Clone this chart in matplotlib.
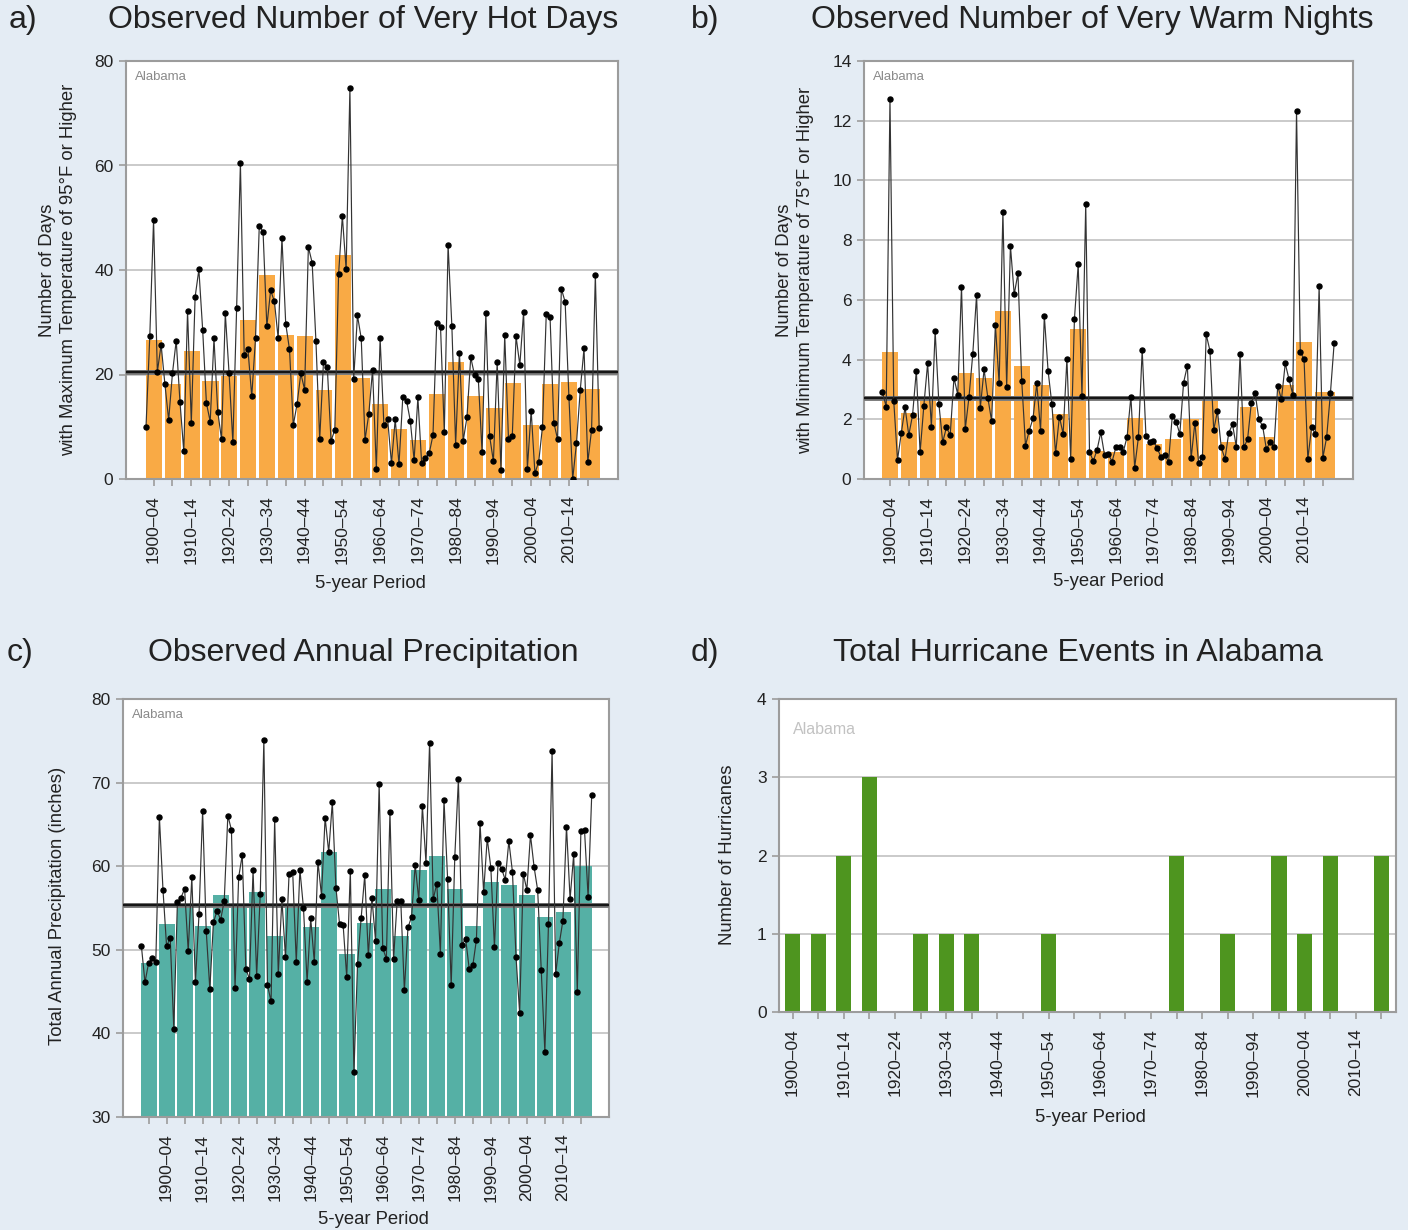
import numpy as np
import matplotlib
matplotlib.use('Agg')
import matplotlib.pyplot as plt

plt.rcParams['font.family'] = ['Liberation Sans', 'DejaVu Sans']

# ---------------- data ----------------
# a) very hot days (annual, 1900-2020)
hot_years = list(range(1900, 2021))
hot_days = [10.0, 27.3, 49.6, 20.5, 25.7, 18.2, 11.3, 20.2, 26.5, 14.7,
            5.3, 32.1, 10.8, 34.8, 40.1, 28.6, 14.5, 11.0, 26.9, 12.9,
            7.6, 31.7, 20.2, 7.0, 32.7, 60.4, 23.8, 24.8, 15.8, 26.9,
            48.5, 47.3, 29.2, 36.1, 34.0, 26.9, 46.2, 29.7, 24.8, 10.3,
            14.3, 20.2, 17.1, 44.4, 41.4, 26.4, 7.6, 22.4, 21.5, 7.3,
            9.4, 39.2, 50.3, 40.1, 74.8, 19.2, 31.3, 26.9, 7.5, 12.4,
            20.9, 1.9, 26.9, 10.3, 11.4, 3.0, 11.4, 2.8, 15.6, 15.0,
            11.1, 3.6, 15.6, 3.0, 4.1, 4.9, 8.4, 29.9, 29.1, 9.0,
            44.8, 29.3, 6.6, 24.2, 7.3, 11.8, 23.3, 19.9, 19.2, 5.2,
            31.8, 8.2, 3.4, 22.3, 1.7, 27.5, 7.6, 8.2, 27.3, 21.8,
            32.0, 2.0, 13.1, 1.1, 3.3, 10.0, 31.6, 31.1, 10.8, 7.6,
            36.4, 33.9, 15.7, 0.0, 6.8, 17.0, 25.0, 3.2, 9.4, 39.1, 9.7]
hot_period_starts = [1900, 1905, 1910, 1915, 1920, 1925, 1930, 1935, 1940, 1945, 1950, 1955,
                     1960, 1965, 1970, 1975, 1980, 1985, 1990, 1995, 2000, 2005, 2010, 2015]
hot_period_ends = [1904, 1909, 1914, 1919, 1924, 1929, 1934, 1939, 1944, 1949, 1954, 1959,
                   1964, 1969, 1974, 1979, 1984, 1989, 1994, 1999, 2004, 2009, 2014, 2020]
hot_bars = [26.6, 18.2, 24.5, 18.7, 19.7, 30.4, 39.0, 27.5, 27.3, 17.0, 42.8, 19.4,
            14.3, 9.6, 7.5, 16.2, 22.3, 15.9, 13.5, 18.4, 10.3, 18.1, 18.6, 17.2]
hot_avg = 20.5

# b) very warm nights (annual, 1900-2020)
warm_years = list(range(1900, 2021))
warm_nights = [2.90, 2.42, 12.72, 2.61, 0.64, 1.53, 2.40, 1.47, 2.14, 3.63,
               0.89, 2.46, 3.87, 1.75, 4.96, 2.51, 1.23, 1.73, 1.47, 3.39,
               2.83, 6.44, 1.67, 2.76, 4.19, 6.16, 2.39, 3.67, 2.72, 1.94,
               5.16, 3.20, 8.95, 3.07, 7.81, 6.18, 6.89, 3.28, 1.12, 1.62,
               2.03, 3.20, 1.61, 5.46, 3.63, 2.51, 0.86, 2.09, 1.51, 4.02,
               0.67, 5.36, 7.19, 2.79, 9.21, 0.92, 0.60, 0.97, 1.56, 0.80,
               0.84, 0.58, 1.06, 1.06, 0.92, 1.42, 2.76, 0.38, 1.40, 4.32,
               1.44, 1.23, 1.27, 1.03, 0.73, 0.80, 0.58, 2.12, 1.92, 1.51,
               3.23, 3.79, 0.69, 1.89, 0.52, 0.75, 4.84, 4.30, 1.64, 2.28,
               1.06, 0.67, 1.55, 1.83, 1.08, 4.17, 1.06, 1.33, 2.56, 2.87,
               2.00, 1.77, 0.99, 1.25, 1.06, 3.11, 2.67, 3.87, 3.34, 2.83,
               12.33, 4.26, 4.01, 0.67, 1.73, 1.51, 6.46, 0.71, 1.40, 2.87, 4.56]
warm_bars = [4.24, 2.20, 2.79, 2.03, 3.56, 3.37, 5.64, 3.79, 3.15, 2.18, 5.04, 0.95,
             0.89, 2.05, 1.17, 1.35, 2.00, 2.73, 1.23, 2.40, 1.42, 3.15, 4.60, 2.90]
warm_avg = 2.70

# c) annual precipitation (annual, 1895-2020)
precip_years = list(range(1895, 2021))
precip = [50.48, 46.10, 48.41, 48.96, 48.49,
          65.90, 57.17, 50.40, 51.47, 40.56,
          55.66, 56.25, 57.29, 49.88, 58.65,
          46.14, 54.26, 66.61, 52.27, 45.30,
          53.27, 54.66, 53.59, 55.86, 66.06,
          64.34, 45.42, 58.65, 61.35, 47.69,
          46.53, 59.52, 46.89, 56.69, 75.10,
          45.78, 43.82, 65.62, 47.13, 56.06,
          49.10, 59.10, 59.30, 48.50, 59.60,
          54.98, 46.14, 53.78, 48.53, 60.56,
          56.49, 65.82, 61.67, 67.65, 57.45,
          53.11, 52.99, 46.73, 59.48, 35.38,
          48.29, 53.78, 58.92, 49.32, 56.18,
          51.10, 69.88, 50.20, 48.92, 66.53,
          48.88, 55.86, 55.86, 45.14, 52.67,
          53.94, 60.16, 55.98, 67.21, 60.40,
          74.78, 56.02, 57.93, 49.52, 67.93,
          58.49, 45.74, 61.16, 70.40, 50.56,
          51.35, 47.73, 48.13, 51.20, 65.22,
          56.89, 63.31, 59.84, 50.32, 60.36,
          59.68, 58.37, 62.99, 59.32, 49.08,
          42.43, 59.12, 57.17, 63.75, 59.92,
          57.13, 47.53, 37.77, 53.11, 73.78,
          47.13, 50.76, 53.47, 64.74, 56.06,
          61.43, 44.98, 64.22, 64.34, 56.33, 68.49]
precip_period_starts = [1895] + hot_period_starts
precip_period_ends = [1899] + hot_period_ends
precip_bars = [48.4, 53.1, 55.4, 52.9, 56.6, 55.5, 56.9, 51.7, 55.1, 52.7, 61.7, 49.5, 53.2,
               57.3, 51.7, 59.5, 61.2, 57.3, 52.8, 58.1, 57.8, 56.5, 53.9, 54.5, 60.0]
precip_avg = 55.4

# d) hurricanes per 5-year period (1900-04 ... 2015-19)
hurr_periods = ['1900–04', '1905–09', '1910–14', '1915–19', '1920–24', '1925–29',
                '1930–34', '1935–39', '1940–44', '1945–49', '1950–54', '1955–59',
                '1960–64', '1965–69', '1970–74', '1975–79', '1980–84', '1985–89',
                '1990–94', '1995–99', '2000–04', '2005–09', '2010–14', '2015–19']
hurricanes = [1, 1, 2, 3, 0, 1, 1, 1, 0, 0, 1, 0, 0, 0, 0, 2, 0, 1, 0, 2, 1, 2, 0, 2]

# ---------------- figure ----------------
W, H = 1408, 1230
BG = '#E4ECF4'
TXT = '#222222'
SPINE = '#9c9c9c'

fig = plt.figure(figsize=(W / 100, H / 100), dpi=100, facecolor=BG)


def box(l, t, r, b):
    return [l / W, 1 - b / H, (r - l) / W, (b - t) / H]


def ftext(x, y, s, **kw):
    kw.setdefault('color', TXT)
    fig.text(x / W, 1 - y / H, s, **kw)


def style_axes(ax, yticks, ylim):
    ax.set_facecolor('white')
    for s in ax.spines.values():
        s.set_color(SPINE)
        s.set_linewidth(1.5)
    ax.set_ylim(*ylim)
    ax.set_yticks(yticks)
    ax.yaxis.grid(True, color='#c6c6c6', lw=1.3)
    ax.set_axisbelow(True)
    ax.tick_params(axis='both', colors=SPINE, labelcolor=TXT, labelsize=12.5,
                   length=5, width=1.2)
    ax.tick_params(axis='y', pad=4)
    ax.tick_params(axis='x', labelrotation=90, pad=7)


def period_label(s):
    return f"{s}–{(s + 4) % 100:02d}"


def annual_panel(rect, years, values, starts, ends, bar_vals, avg, color,
                 yticks, ylim, xlim):
    ax = fig.add_axes(rect)
    style_axes(ax, yticks, ylim)
    starts = np.array(starts)
    ends = np.array(ends)
    ax.bar(starts - 0.05, bar_vals, width=ends - starts + 0.25, align='edge',
           color=color, zorder=2)
    ax.axhline(avg, color='#7f7f7f', lw=3.6, zorder=3)
    ax.axhline(avg, color='#161616', lw=1.7, zorder=3.1)
    ax.plot(years, values, color='#333333', lw=0.85, marker='o', ms=3.6,
            mfc='black', mec='black', zorder=4)
    ax.set_xticks(starts + 2)
    ax.set_xticklabels([period_label(s) if s % 10 == 0 else '' for s in starts])
    ax.set_xlim(*xlim)
    ax.text(0.018, 0.975, 'Alabama', transform=ax.transAxes, ha='left', va='top',
            fontsize=9.5, color='#8a8a8a')
    return ax


ORANGE = '#F9AA45'
TEAL = '#55B0A5'
GREEN = '#4E951F'

# a)
annual_panel(box(126, 61, 618, 479), hot_years, hot_days, hot_period_starts,
             hot_period_ends, hot_bars, hot_avg, ORANGE,
             [0, 20, 40, 60, 80], (0, 80), (1894.7, 2025.0))
# b)
annual_panel(box(864, 61, 1353, 479), warm_years, warm_nights, hot_period_starts,
             hot_period_ends, warm_bars, warm_avg, ORANGE,
             list(range(0, 15, 2)), (0, 14), (1895.1, 2025.0))
# c)
annual_panel(box(123, 699, 609, 1117), precip_years, precip, precip_period_starts,
             precip_period_ends, precip_bars, precip_avg, TEAL,
             [30, 40, 50, 60, 70, 80], (30, 80), (1889.9, 2024.8))

# d)
axd = fig.add_axes(box(779, 699, 1396, 1012))
style_axes(axd, [0, 1, 2, 3, 4], (0, 4))
xpos = np.arange(len(hurricanes))
axd.bar(xpos, hurricanes, width=0.59, color=GREEN, zorder=2)
axd.set_xticks(xpos)
axd.set_xticklabels([p if i % 2 == 0 else '' for i, p in enumerate(hurr_periods)])
axd.set_xlim(-0.53, len(hurricanes) - 1 + 0.57)
axd.text(0.022, 0.925, 'Alabama', transform=axd.transAxes, ha='left', va='top',
         fontsize=11.5, color='#c2c2c2')

# ---------------- texts ----------------
TS = 23
ftext(9, 20, 'a)', fontsize=TS, ha='left', va='center')
ftext(363, 20, 'Observed Number of Very Hot Days', fontsize=TS, ha='center', va='center')
ftext(691, 20, 'b)', fontsize=TS, ha='left', va='center')
ftext(1092, 20, 'Observed Number of Very Warm Nights', fontsize=TS, ha='center', va='center')
ftext(7, 653, 'c)', fontsize=TS, ha='left', va='center')
ftext(363, 653, 'Observed Annual Precipitation', fontsize=TS, ha='center', va='center')
ftext(691, 653, 'd)', fontsize=TS, ha='left', va='center')
ftext(1078, 653, 'Total Hurricane Events in Alabama', fontsize=TS, ha='center', va='center')

XS = 13.3
ftext(370, 583, '5-year Period', fontsize=XS, ha='center', va='center')
ftext(1108, 581, '5-year Period', fontsize=XS, ha='center', va='center')
ftext(373, 1220, '5-year Period', fontsize=XS, ha='center', va='center')
ftext(1090, 1117, '5-year Period', fontsize=XS, ha='center', va='center')

ftext(58, 270, 'Number of Days\nwith Maximum Temperature of 95°F or Higher', fontsize=XS,
      rotation=90, ha='center', va='center', multialignment='center', linespacing=1.3)
ftext(795, 270, 'Number of Days\nwith Minimum Temperature of 75°F or Higher', fontsize=XS,
      rotation=90, ha='center', va='center', multialignment='center', linespacing=1.3)
ftext(58, 906, 'Total Annual Precipitation (inches)', fontsize=XS,
      rotation=90, ha='center', va='center')
ftext(728, 855, 'Number of Hurricanes', fontsize=XS,
      rotation=90, ha='center', va='center')

fig.savefig('out.png', dpi=100, facecolor=BG)
